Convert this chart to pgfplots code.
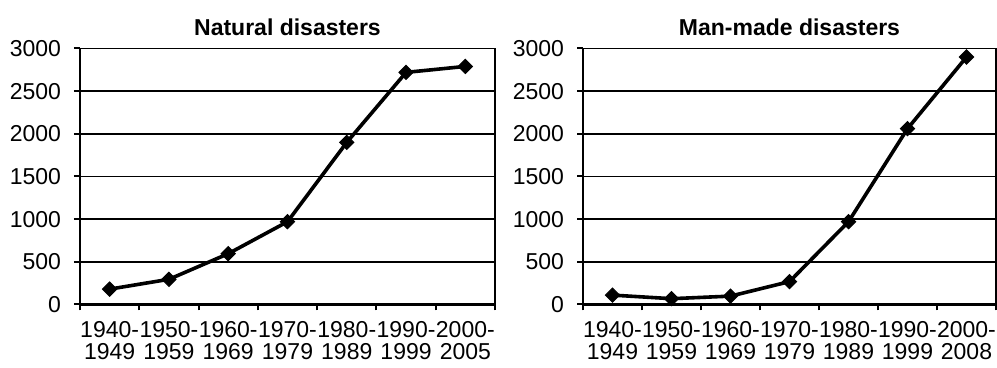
\documentclass[border=0pt]{standalone}
\usepackage{fontspec}
\setmainfont{Liberation Sans}
\usepackage{pgfplots}
\pgfplotsset{compat=1.18}
\pgfplotsset{
  disaxis/.style={
    scale only axis,
    height=128pt,
    anchor=south west,
    xmin=0, xmax=7, ymin=0, ymax=3000,
    ytick={0,500,...,3000},
    xtick={0,...,7},
    x tick label as interval,
    /pgf/number format/assume math mode=true,
    /pgf/number format/1000 sep={},
    axis x line*=bottom, axis y line*=left,
    axis line style={-, line width=1.2pt, black},
    ymajorgrids,
    major grid style={line width=0.75pt, black},
    tick align=outside,
    major tick length=3pt,
    tick style={line width=1pt, black},
    tick label style={font=\fontsize{11.5}{11}\selectfont, text=black},
    x tick label style={align=center, yshift=-4.5pt, inner sep=1pt},
    y tick label style={xshift=-3pt},
    xticklabels={{1940-\\1949},{1950-\\1959},{1960-\\1969},{1970-\\1979},{1980-\\1989},{1990-\\1999},{2000-\\2005}},
    title style={font=\bfseries\fontsize{11.5}{13}\selectfont, yshift=-3pt},
    clip=false,
  },
  disline/.style={black, line width=1.8pt, mark=square*, mark size=2.5pt, mark options={rotate=45, solid, line width=0.5pt}},
}
\begin{document}
\begin{tikzpicture}
\path[use as bounding box] (0,0) rectangle (498.5pt,184pt);
\begin{axis}[disaxis, at={(40pt,31.75pt)}, width=207.5pt, title={Natural disasters}]
\addplot[disline] coordinates {(0.5,180) (1.5,295) (2.5,595) (3.5,970) (4.5,1900) (5.5,2720) (6.5,2790)};
\draw[line width=0.75pt] (rel axis cs:1,0) -- (rel axis cs:1,1);
\end{axis}
\begin{axis}[disaxis, at={(291.5pt,31.75pt)}, width=206.5pt, title={Man-made disasters},
  xticklabels={{1940-\\1949},{1950-\\1959},{1960-\\1969},{1970-\\1979},{1980-\\1989},{1990-\\1999},{2000-\\2008}}]
\addplot[disline] coordinates {(0.5,110) (1.5,68) (2.5,98) (3.5,268) (4.5,970) (5.5,2060) (6.5,2900)};
\draw[line width=0.75pt] (rel axis cs:1,0) -- (rel axis cs:1,1);
\end{axis}
\end{tikzpicture}
\end{document}
